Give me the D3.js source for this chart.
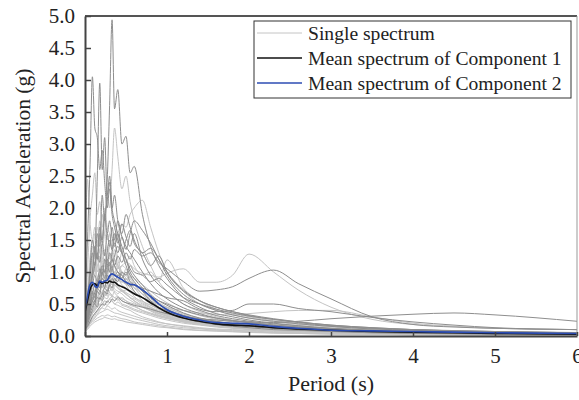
<!DOCTYPE html>
<html lang="en">
<head>
<meta charset="UTF-8">
<title>Response spectra</title>
<script src="https://d3js.org/d3.v7.min.js"></script>
<style>
  body { margin: 0; background: #fff; font-family: "Liberation Serif", "Times New Roman", serif; }
  .single { fill: none; stroke-width: 1px; }
  .mean { fill: none; stroke-width: 1.6px; }
  text { fill: #222; font-family: "Liberation Serif", "Times New Roman", serif; }
</style>
</head>
<body>
<svg width="579" height="400"></svg>
<script>
// periods (s) shared by all spectra
const periods = [0,0.03,0.06,0.09,0.12, 0.15,0.18,0.21,0.24,0.27, 0.3,0.33,0.36,0.4,0.45,
                 0.5,0.55,0.6,0.7,0.8, 0.9,1.0,1.2,1.4,1.6, 1.8,2.0,2.3,2.6,3.0, 3.5,4.0,4.5,5.0,6.0];

// single spectra, tone "d" = darker grey, "l" = light grey
const singleTones = ["d","d","d","l","l","l","d","l","d","d","d","l","l",
                     "l","l","l","d","l","l","d","l","l","d","l","l","d","l","l","d","l","l","d","l",
                     "l","l","l","l","l","l","d","l","l","l","d","l"];
const singleSpectra = [
  [0.30,0.50,0.90,1.30,1.10, 1.60,1.40,2.20,1.80,2.40, 3.60,4.94,3.55,3.85,3.00, 3.12,2.55,2.65,1.90,1.40, 1.10,0.90,0.60,0.45,0.35, 0.30,0.25,0.20,0.16,0.12, 0.09,0.07,0.06,0.05,0.04],
  [0.50,1.50,2.60,4.05,3.25, 3.10,2.60,2.90,2.40,2.00, 2.30,1.90,1.70,1.50,1.30, 1.10,0.95,0.85,0.70,0.55, 0.45,0.38,0.28,0.22,0.18, 0.15,0.13,0.10,0.09,0.07, 0.05,0.04,0.035,0.03,0.02],
  [0.35,0.60,1.00,1.50,1.30, 2.50,3.95,2.60,3.10,2.20, 2.50,2.00,1.80,1.60,1.40, 1.20,1.00,0.90,0.75,0.60, 0.50,0.42,0.32,0.25,0.20, 0.17,0.15,0.12,0.10,0.08, 0.06,0.05,0.04,0.035,0.03],
  [0.30,0.45,0.80,1.20,1.00, 1.50,1.30,1.90,1.60,2.20, 2.00,2.60,3.25,2.80,2.30, 2.50,2.10,1.80,1.40,1.10, 0.85,0.70,0.50,0.38,0.30, 0.25,0.21,0.17,0.14,0.11, 0.08,0.06,0.05,0.045,0.035],
  [0.40,1.00,1.80,2.20,2.55, 1.90,2.10,1.70,1.90,1.50, 1.60,1.30,1.20,1.10,0.95, 0.85,0.75,0.70,0.55,0.45, 0.38,0.32,0.24,0.19,0.15, 0.13,0.11,0.09,0.08,0.06, 0.05,0.04,0.035,0.03,0.025],
  [0.20,0.30,0.45,0.60,0.70, 0.90,1.00,1.10,1.30,1.20, 1.40,1.50,1.45,1.60,1.75, 1.70,1.90,2.00,2.12,1.70, 1.30,1.00,0.70,0.50,0.40, 0.33,0.28,0.22,0.18,0.14, 0.10,0.08,0.07,0.06,0.05],
  [0.25,0.40,0.70,1.00,1.30, 1.20,1.60,1.50,1.90,2.10, 2.40,2.00,2.20,1.80,1.60, 1.90,1.70,1.50,1.30,1.37, 1.20,0.95,0.65,0.50,0.40, 0.33,0.28,0.23,0.19,0.15, 0.11,0.09,0.07,0.06,0.05],
  [0.15,0.20,0.30,0.40,0.45, 0.55,0.60,0.70,0.75,0.80, 0.90,0.95,1.00,1.05,1.10, 1.15,1.12,1.05,0.98,0.95, 0.92,0.98,1.05,0.84,0.84, 0.95,1.28,1.00,0.72,0.45, 0.26,0.18,0.15,0.12,0.10],
  [0.20,0.35,0.50,0.70,0.60, 0.85,0.75,1.00,0.90,1.10, 1.00,1.20,1.10,1.25,1.15, 1.30,1.20,1.35,1.25,1.30, 1.15,1.05,0.85,0.70,0.72, 0.77,0.90,1.03,0.82,0.58, 0.30,0.18,0.14,0.12,0.10],
  [0.15,0.25,0.40,0.55,0.50, 0.70,0.65,0.85,0.75,0.95, 0.90,1.05,0.95,1.00,0.90, 1.00,0.85,0.80,0.75,0.70, 0.65,0.60,0.55,0.42,0.38, 0.40,0.50,0.50,0.43,0.38, 0.29,0.22,0.17,0.13,0.10],
  [0.10,0.15,0.22,0.30,0.35, 0.40,0.45,0.50,0.48,0.55, 0.52,0.58,0.55,0.60,0.55, 0.52,0.50,0.48,0.45,0.42, 0.38,0.35,0.30,0.27,0.25, 0.23,0.22,0.21,0.23,0.27, 0.31,0.34,0.36,0.33,0.23],
  [0.12,0.18,0.25,0.35,0.40, 0.50,0.55,0.60,0.65,0.70, 0.75,0.70,0.80,0.75,0.70, 0.72,0.68,0.65,0.60,0.55, 0.50,0.45,0.40,0.36,0.34, 0.33,0.35,0.38,0.40,0.40, 0.30,0.20,0.15,0.12,0.10],
  [0.18,0.25,0.40,0.55,0.50, 0.70,0.80,0.75,0.95,0.90, 1.10,1.00,1.20,1.05,1.30, 1.15,1.25,1.10,0.95,1.00, 0.85,1.19,0.75,0.55,0.42, 0.35,0.30,0.24,0.20,0.15, 0.11,0.09,0.07,0.06,0.05],
  [0.25,0.40,0.65,0.90,0.80, 1.10,1.00,1.30,1.15,1.40, 1.25,1.20,1.35,1.10,1.00, 0.95,0.85,0.80,0.65,0.55, 0.45,0.40,0.30,0.24,0.20, 0.17,0.14,0.11,0.09,0.07, 0.05,0.04,0.035,0.03,0.025],
  [0.12,0.18,0.28,0.35,0.40, 0.45,0.50,0.48,0.55,0.52, 0.58,0.55,0.50,0.48,0.45, 0.42,0.40,0.36,0.30,0.26, 0.22,0.19,0.15,0.12,0.10, 0.09,0.08,0.06,0.05,0.04, 0.03,0.025,0.02,0.02,0.015],
  [0.30,0.50,0.85,1.20,1.60, 1.40,1.80,1.50,2.00,1.70, 1.60,1.40,1.50,1.20,1.00, 0.90,0.80,0.75,0.60,0.50, 0.42,0.36,0.27,0.21,0.17, 0.14,0.12,0.10,0.08,0.06, 0.05,0.04,0.03,0.025,0.02],
  [0.20,0.30,0.50,0.65,0.80, 0.75,0.95,1.10,1.00,1.30, 1.50,1.35,1.60,1.45,1.75, 1.55,1.40,1.60,1.20,0.95, 0.80,0.70,0.50,0.40,0.32, 0.27,0.23,0.19,0.16,0.12, 0.09,0.07,0.06,0.05,0.04],
  [0.10,0.14,0.20,0.26,0.30, 0.33,0.36,0.38,0.40,0.42, 0.40,0.38,0.36,0.35,0.33, 0.31,0.29,0.27,0.24,0.21, 0.18,0.16,0.13,0.11,0.09, 0.08,0.07,0.05,0.045,0.035, 0.03,0.02,0.02,0.015,0.01],
  [0.35,0.60,1.10,1.40,1.20, 1.70,1.50,1.30,1.60,1.40, 1.20,1.30,1.10,1.00,0.90, 1.05,0.90,0.80,0.65,0.55, 0.48,0.42,0.32,0.26,0.21, 0.18,0.15,0.12,0.10,0.08, 0.06,0.05,0.04,0.035,0.03],
  [0.18,0.28,0.45,0.60,0.55, 0.75,0.70,0.90,0.85,1.00, 1.15,1.05,1.25,1.40,1.30, 1.50,1.65,1.45,1.30,1.10, 1.25,1.00,0.70,0.55,0.45, 0.38,0.32,0.26,0.21,0.16, 0.12,0.10,0.08,0.07,0.05],
  [0.22,0.35,0.55,0.75,0.70, 0.90,0.85,1.00,0.95,0.90, 0.85,0.80,0.85,0.75,0.70, 0.65,0.60,0.58,0.50,0.44, 0.38,0.33,0.26,0.21,0.18, 0.15,0.13,0.11,0.09,0.07, 0.05,0.04,0.035,0.03,0.025],
  [0.15,0.22,0.35,0.50,0.45, 0.60,0.70,0.65,0.80,0.75, 0.90,0.85,1.00,0.95,1.10, 1.05,0.95,0.90,0.80,0.70, 0.60,0.52,0.40,0.32,0.26, 0.22,0.19,0.15,0.13,0.10, 0.08,0.06,0.05,0.04,0.035],
  [0.28,0.45,0.75,1.00,1.40, 1.20,1.70,1.45,1.90,1.60, 1.80,1.55,1.40,1.60,1.30, 1.20,1.05,0.95,0.80,0.65, 0.55,0.48,0.36,0.28,0.23, 0.19,0.16,0.13,0.11,0.08, 0.06,0.05,0.04,0.035,0.03],
  [0.08,0.12,0.18,0.22,0.25, 0.28,0.30,0.32,0.31,0.33, 0.32,0.30,0.31,0.29,0.27, 0.26,0.24,0.22,0.20,0.18, 0.16,0.14,0.11,0.09,0.08, 0.07,0.06,0.05,0.04,0.03, 0.025,0.02,0.015,0.015,0.01],
  [0.40,0.70,1.20,1.50,1.30, 1.10,1.25,1.00,1.15,0.95, 0.90,0.85,0.80,0.75,0.70, 0.65,0.60,0.55,0.48,0.42, 0.36,0.31,0.24,0.19,0.16, 0.13,0.11,0.09,0.08,0.06, 0.05,0.04,0.03,0.025,0.02],
  [0.12,0.18,0.30,0.40,0.50, 0.45,0.60,0.55,0.70,0.65, 0.80,0.75,0.90,0.85,1.00, 0.95,1.10,1.00,0.95,0.85, 0.90,0.80,0.60,0.50,0.42, 0.36,0.31,0.26,0.22,0.17, 0.13,0.10,0.08,0.07,0.05],
  [0.20,0.32,0.50,0.65,0.60, 0.55,0.65,0.60,0.70,0.62, 0.68,0.60,0.55,0.58,0.50, 0.48,0.45,0.42,0.38,0.34, 0.30,0.27,0.22,0.18,0.15, 0.13,0.11,0.09,0.07,0.06, 0.045,0.035,0.03,0.025,0.02],
  [0.26,0.42,0.70,0.95,1.15, 1.00,1.25,1.10,1.00,1.20, 1.05,0.95,1.10,0.90,0.85, 0.80,0.70,0.68,0.55,0.48, 0.42,0.37,0.29,0.23,0.19, 0.16,0.14,0.11,0.09,0.07, 0.05,0.04,0.035,0.03,0.025],
  [0.15,0.22,0.35,0.45,0.55, 0.60,0.58,0.65,0.75,0.70, 0.80,0.90,0.85,0.95,0.88, 0.82,0.78,0.80,0.70,0.62, 0.55,0.50,0.40,0.33,0.28, 0.24,0.21,0.17,0.14,0.11, 0.08,0.07,0.055,0.045,0.035],
  [0.10,0.15,0.22,0.28,0.32, 0.38,0.42,0.45,0.50,0.48, 0.52,0.55,0.50,0.53,0.48, 0.46,0.43,0.40,0.36,0.32, 0.28,0.25,0.20,0.17,0.14, 0.12,0.10,0.08,0.07,0.055, 0.04,0.03,0.025,0.02,0.015],
  [0.32,0.55,0.95,1.25,1.10, 1.45,1.30,1.15,1.35,1.20, 1.00,1.10,0.95,0.90,0.80, 0.75,0.70,0.62,0.52,0.45, 0.40,0.35,0.27,0.22,0.18, 0.15,0.13,0.10,0.085,0.065, 0.05,0.04,0.03,0.025,0.02],
  [0.22,0.35,0.60,0.80,0.95, 0.85,1.05,0.95,1.20,1.10, 1.30,1.20,1.10,1.00,0.95, 0.85,0.80,0.70,0.60,0.52, 0.45,0.40,0.32,0.26,0.22, 0.19,0.17,0.14,0.12,0.09, 0.07,0.06,0.05,0.04,0.03],
  [0.14,0.20,0.30,0.38,0.42, 0.50,0.48,0.55,0.60,0.58, 0.65,0.62,0.70,0.66,0.72, 0.68,0.64,0.60,0.54,0.48, 0.43,0.38,0.31,0.26,0.22, 0.19,0.16,0.13,0.11,0.09, 0.07,0.05,0.045,0.035,0.03],
  [0.18,0.28,0.45,0.62,0.58, 0.72,0.80,0.76,0.88,0.82, 0.78,0.85,0.74,0.70,0.66, 0.60,0.56,0.52,0.45,0.40, 0.35,0.31,0.25,0.20,0.17, 0.15,0.13,0.10,0.09,0.07, 0.05,0.04,0.035,0.03,0.025],
  [0.25,0.38,0.62,0.85,1.05, 0.92,0.80,0.95,0.85,0.75, 0.70,0.78,0.68,0.62,0.58, 0.55,0.50,0.47,0.40,0.35, 0.31,0.28,0.22,0.18,0.15, 0.13,0.11,0.09,0.08,0.06, 0.045,0.035,0.03,0.025,0.02],
  [0.13,0.19,0.28,0.36,0.44, 0.52,0.60,0.66,0.62,0.70, 0.78,0.72,0.80,0.88,0.84, 0.90,0.82,0.76,0.66,0.58, 0.50,0.44,0.34,0.27,0.22, 0.19,0.16,0.13,0.11,0.085, 0.065,0.05,0.04,0.035,0.03],
  [0.09,0.13,0.19,0.24,0.28, 0.34,0.40,0.44,0.42,0.47, 0.45,0.42,0.44,0.40,0.37, 0.35,0.33,0.31,0.27,0.24, 0.21,0.19,0.16,0.13,0.11, 0.10,0.09,0.07,0.06,0.05, 0.04,0.03,0.025,0.02,0.015],
  [0.30,0.48,0.78,1.05,0.95, 1.20,1.05,0.98,1.10,0.92, 0.85,0.95,0.80,0.76,0.70, 0.66,0.60,0.55,0.46,0.40, 0.35,0.31,0.24,0.19,0.16, 0.14,0.12,0.10,0.08,0.065, 0.05,0.04,0.03,0.025,0.02],
  [0.16,0.24,0.38,0.50,0.62, 0.58,0.70,0.66,0.62,0.74, 0.68,0.64,0.60,0.62,0.55, 0.52,0.48,0.46,0.40,0.36, 0.32,0.29,0.24,0.20,0.17, 0.15,0.13,0.11,0.09,0.07, 0.055,0.045,0.04,0.035,0.03],
  [0.26,0.42,0.70,0.92,1.10, 1.30,1.15,1.45,1.25,1.60, 1.40,1.70,1.50,1.80,1.55, 1.40,1.30,1.20,1.00,0.82, 0.68,0.58,0.44,0.35,0.28, 0.24,0.21,0.17,0.14,0.11, 0.08,0.065,0.055,0.045,0.035],
  [0.90,2.45,1.80,1.50,1.70, 1.40,1.55,1.20,1.30,1.10, 1.00,0.95,0.90,0.80,0.72, 0.66,0.60,0.55,0.46,0.39, 0.33,0.29,0.22,0.18,0.15, 0.13,0.11,0.09,0.075,0.06, 0.045,0.035,0.03,0.025,0.02],
  [0.11,0.16,0.24,0.30,0.36, 0.40,0.46,0.50,0.55,0.52, 0.58,0.62,0.60,0.56,0.60, 0.55,0.52,0.50,0.46,0.42, 0.38,0.34,0.28,0.24,0.21, 0.18,0.16,0.13,0.11,0.09, 0.07,0.055,0.045,0.04,0.03],
  [0.20,0.30,0.48,0.66,0.80, 0.74,0.95,0.88,1.05,0.96, 1.15,1.05,0.98,1.08,0.95, 0.88,0.92,0.82,0.70,0.60, 0.52,0.45,0.35,0.28,0.23, 0.20,0.17,0.14,0.12,0.09, 0.07,0.055,0.045,0.04,0.03],
  [0.18,0.28,0.42,0.55,0.68, 0.80,0.92,1.05,0.98,1.20, 1.10,1.30,1.45,1.30,1.55, 1.35,1.60,1.80,1.65,1.45, 1.20,1.00,0.72,0.55,0.45, 0.38,0.33,0.27,0.22,0.17, 0.13,0.10,0.085,0.07,0.055],
  [0.07,0.10,0.15,0.19,0.22, 0.24,0.26,0.27,0.29,0.28, 0.27,0.26,0.27,0.25,0.24, 0.22,0.21,0.20,0.18,0.16, 0.14,0.13,0.10,0.085,0.075, 0.065,0.055,0.045,0.04,0.03, 0.025,0.02,0.015,0.012,0.01]
];

// mean spectra
const meanComp1 = [0.37,0.55,0.72,0.80,0.82, 0.78,0.85,0.82,0.84,0.83, 0.86,0.84,0.84,0.80,0.77,
                   0.74,0.70,0.66,0.60,0.52, 0.44,0.37,0.28,0.23,0.19, 0.17,0.16,0.13,0.11,0.09, 0.07,0.06,0.05,0.04,0.03];
const meanComp2 = [0.43,0.62,0.80,0.84,0.78, 0.76,0.86,0.84,0.86,0.87, 0.94,0.97,0.95,0.92,0.88,
                   0.84,0.81,0.80,0.72,0.62, 0.50,0.41,0.31,0.25,0.21, 0.20,0.19,0.15,0.12,0.09, 0.08,0.07,0.06,0.05,0.04];

const xTicks = [0, 1, 2, 3, 4, 5, 6];
const yTicks = [0, 0.5, 1, 1.5, 2, 2.5, 3, 3.5, 4, 4.5, 5];
const legendLabels = ["Single spectrum", "Mean spectrum of Component 1", "Mean spectrum of Component 2"];

const toneColor = { l: "#c4c4c4", d: "#8e8e8e" };
const comp1Color = "#111111", comp2Color = "#2c4db3";

const svg = d3.select("svg");
const margin = { left: 85, right: 2, top: 16, bottom: 64 };
const W = 579, H = 400;

const x = d3.scaleLinear().domain([0, 6]).range([margin.left, W - margin.right]);
const y = d3.scaleLinear().domain([0, 5]).range([H - margin.bottom, margin.top]);

const line = d3.line()
  .x((d, i) => x(periods[i]))
  .y(d => y(d))
  .curve(d3.curveMonotoneX);

svg.append("clipPath").attr("id", "plot")
  .append("rect").attr("x", x(0)).attr("y", y(5)).attr("width", x(6) - x(0)).attr("height", y(0) - y(5));

const g = svg.append("g").attr("clip-path", "url(#plot)");

// light spectra underneath, darker ones on top
const order = d3.range(singleSpectra.length).sort((a, b) => d3.descending(singleTones[a], singleTones[b]));
g.selectAll(".single")
  .data(order)
  .enter().append("path")
  .attr("class", "single")
  .attr("stroke", i => toneColor[singleTones[i]])
  .attr("d", i => line(singleSpectra[i]));

g.append("path").attr("class", "mean").attr("stroke", comp1Color).attr("d", line(meanComp1));
g.append("path").attr("class", "mean").attr("stroke", comp2Color).attr("d", line(meanComp2));

// frame: top and right sides
svg.append("line").attr("x1", x(0)).attr("x2", x(6)).attr("y1", y(5)).attr("y2", y(5))
  .attr("stroke", "#555").attr("stroke-width", 2);
svg.append("line").attr("x1", x(6)).attr("x2", x(6)).attr("y1", y(5)).attr("y2", y(0))
  .attr("stroke", "#999").attr("stroke-width", 1);

// axes with inward ticks
const xAxis = svg.append("g").attr("transform", `translate(0,${y(0)})`)
  .call(d3.axisBottom(x).tickValues(xTicks).tickSizeInner(-4).tickSizeOuter(0).tickPadding(12).tickFormat(d3.format("d")));
const yAxis = svg.append("g").attr("transform", `translate(${x(0)},0)`)
  .call(d3.axisLeft(y).tickValues(yTicks).tickSizeInner(-6).tickSizeOuter(0).tickPadding(10).tickFormat(d3.format(".1f")));

[xAxis, yAxis].forEach(a => {
  a.attr("font-family", null);
  a.select(".domain").attr("stroke", "#444").attr("stroke-width", 2);
  a.selectAll(".tick line").attr("stroke", "#444").attr("stroke-width", 1.5);
  a.selectAll("text").attr("font-size", 21).attr("fill", "#222");
});

svg.append("text")
  .attr("x", (x(0) + x(6)) / 2).attr("y", 391)
  .attr("text-anchor", "middle").attr("font-size", 22)
  .text("Period (s)");

svg.append("text")
  .attr("transform", `translate(30,${(y(0) + y(5)) / 2}) rotate(-90)`)
  .attr("text-anchor", "middle").attr("font-size", 21.5)
  .text("Spectral Acceleration (g)");

// legend
const lg = svg.append("g").attr("transform", "translate(254,21)");
lg.append("rect").attr("width", 317).attr("height", 77)
  .attr("fill", "#fff").attr("stroke", "#333").attr("stroke-width", 1);
const legendColors = [toneColor.l, comp1Color, comp2Color];
legendLabels.forEach((lab, i) => {
  const cy = 12 + i * 25;
  lg.append("line").attr("x1", 3).attr("x2", 48).attr("y1", cy).attr("y2", cy)
    .attr("stroke", legendColors[i]).attr("stroke-width", i === 0 ? 1 : 1.4);
  lg.append("text").attr("x", 54).attr("y", cy + 6.5).attr("font-size", 19.6).text(lab);
});
</script>
</body>
</html>
